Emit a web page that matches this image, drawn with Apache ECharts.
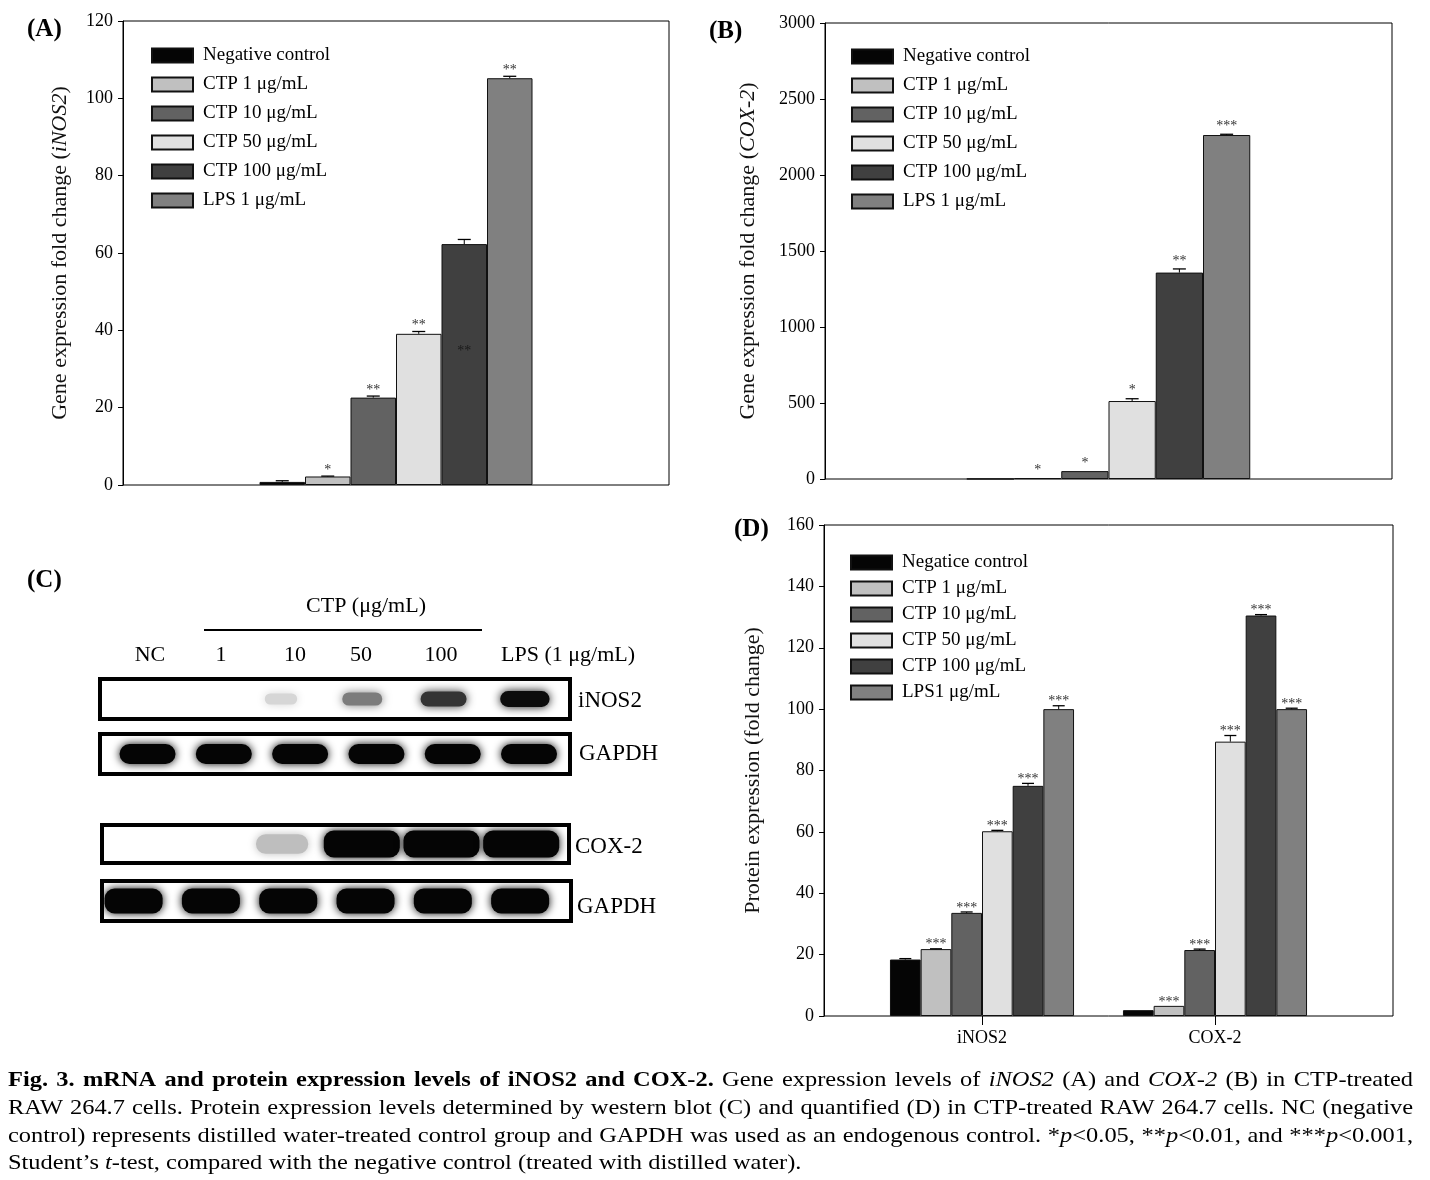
<!DOCTYPE html>
<html><head><meta charset="utf-8">
<script src="https://cdn.jsdelivr.net/npm/echarts@6/dist/echarts.min.js"></script>
<style>html,body{margin:0;padding:0;background:#fff}#c{width:1430px;height:1180px}</style>
</head><body><div id="c"></div>
<script>
// ---------------- data ----------------
const seriesNames = ['Negative control', 'CTP 1 μg/mL', 'CTP 10 μg/mL', 'CTP 50 μg/mL', 'CTP 100 μg/mL', 'LPS 1 μg/mL'];
const seriesNamesD = ['Negatice control', 'CTP 1 μg/mL', 'CTP 10 μg/mL', 'CTP 50 μg/mL', 'CTP 100 μg/mL', 'LPS1 μg/mL'];

const ticksA = [0, 20, 40, 60, 80, 100, 120];
const valuesA = [0.8, 2.2, 22.6, 39.1, 62.3, 105.2];
const errorsA = [0.3, 0.1, 0.4, 0.6, 1.2, 0.5];
const starsA = ['', '*', '**', '**', '**', '**'];
const starAnchorA = [null, null, null, null, 35, null]; // the CTP 100 mark is printed inside its bar

const ticksB = [0, 500, 1000, 1500, 2000, 2500, 3000];
const valuesB = [1, 6, 52, 513, 1358, 2263];
const errorsB = [0, 0, 0, 15, 24, 5];
const starsB = ['', '*', '*', '*', '**', '***'];

const categoriesD = ['iNOS2', 'COX-2'];
const ticksD = [0, 20, 40, 60, 80, 100, 120, 140, 160];
const valuesD = [[18.4, 1.9], [21.8, 3.3], [33.6, 21.5], [60.2, 89.4], [75.0, 130.5], [100.0, 100.0]];
const errorsD = [[0.3, 0], [0.1, 0], [0.3, 0.3], [0.3, 2.0], [0.8, 0.3], [1.1, 0.3]];
const starsD = [['', ''], ['***', '***'], ['***', '***'], ['***', '***'], ['***', '***'], ['***', '***']];

// western blot (C): lane labels and band intensity (0 = none, 1 = saturated)
const blotLanes = ['NC', '1', '10', '50', '100', 'LPS (1 μg/mL)'];
const blotRows = ['iNOS2', 'GAPDH', 'COX-2', 'GAPDH'];
const bandINOS2 = [0, 0, 0.12, 0.5, 0.8, 0.97];
const bandGAPDH1 = [1, 1, 1, 1, 1, 1];
const bandCOX2 = [0, 0, 0.22, 1, 1, 1];
const bandGAPDH2 = [1, 1, 1, 1, 1, 1];

const captionLines = [
  [['b', 'Fig. 3. mRNA and protein expression levels of iNOS2 and COX-2.'], ['n', ' Gene expression levels of '], ['i', 'iNOS2'], ['n', ' (A) and '], ['i', 'COX-2'], ['n', ' (B) in CTP-treated']],
  [['n', 'RAW 264.7 cells. Protein expression levels determined by western blot (C) and quantified (D) in CTP-treated RAW 264.7 cells. NC (negative']],
  [['n', 'control) represents distilled water-treated control group and GAPDH was used as an endogenous control. *'], ['i', 'p'], ['n', '<0.05, **'], ['i', 'p'], ['n', '<0.01, and ***'], ['i', 'p'], ['n', '<0.001,']],
  [['n', 'Student’s '], ['i', 't'], ['n', '-test, compared with the negative control (treated with distilled water).']]
];

// ---------------- styles ----------------
const FONT = '"Liberation Serif", "Times New Roman", serif';
const colors = ['#050505', '#c0c0c0', '#626262', '#e0e0e0', '#404040', '#808080'];

const chart = echarts.init(document.getElementById('c'), null, { renderer: 'canvas' });

function valueAxis(gridIndex, ticks, name, nameGap, show) {
  return {
    type: 'value', gridIndex: gridIndex, min: ticks[0], max: ticks[ticks.length - 1],
    interval: ticks[1] - ticks[0], show: show !== false,
    axisLine: { show: true, lineStyle: { color: '#000', width: 1 } },
    axisTick: { show: true, inside: false, length: 5, lineStyle: { color: '#000' } },
    axisLabel: { fontFamily: FONT, fontSize: 18, color: '#000', margin: 10, formatter: v => String(v) },
    splitLine: { show: false },
    name: name, nameLocation: 'middle', nameGap: nameGap, nameRotate: 90,
    nameTextStyle: { fontFamily: FONT, fontSize: 22, color: '#111', rich: { it: { fontFamily: FONT, fontSize: 22, fontStyle: 'italic', color: '#111' } } }
  };
}

function errRenderer(items, nSer, gap, capW, starSize, starColor, starLift) {
  return function (params, api) {
    const it = items[params.dataIndex];
    const catW = api.size([1, 0])[0];
    const bw = catW * (1 - gap) / nSer;
    const c = api.coord([it.cat, it.v]);
    const t = api.coord([it.cat, it.v + it.e]);
    const x = c[0] + (it.s - nSer / 2 + 0.5) * bw;
    const children = [];
    if (it.e > 0) {
      children.push({ type: 'line', shape: { x1: x, y1: c[1], x2: x, y2: t[1] }, style: { stroke: '#000', lineWidth: 1 } });
      children.push({ type: 'line', shape: { x1: x - capW / 2, y1: t[1], x2: x + capW / 2, y2: t[1] }, style: { stroke: '#000', lineWidth: 1.3 } });
    }
    if (it.star) {
      const sy = it.anchor != null ? api.coord([it.cat, it.anchor])[1] + 9 : t[1] + starLift;
      children.push({ type: 'text', x: x, y: sy, style: { text: it.star, align: 'center', verticalAlign: 'bottom', fontFamily: FONT, fontSize: starSize, fill: it.anchor != null ? '#1a1a1a' : starColor } });
    }
    return { type: 'group', children: children };
  };
}

function bandRenderer(w, h, blur) {
  return function (params, api) {
    const v = api.value(1);
    if (!(v > 0)) return null;
    const p = api.coord([api.value(0), 0.5]);
    const g = Math.round(242 - 237 * v);
    const col = 'rgb(' + g + ',' + g + ',' + g + ')';
    const bw = w * (0.6 + 0.4 * v), bh = h * (0.65 + 0.35 * v);
    return { type: 'rect', shape: { x: p[0] - bw / 2, y: p[1] - bh / 2, width: bw, height: bh, r: Math.min(bh / 2, 10) },
      style: { fill: col, shadowBlur: blur, shadowColor: col } };
  };
}

const barBase = { type: 'bar', barGap: '0%', emphasis: { disabled: true }, animation: false };

const series = [];
// A
seriesNames.forEach((n, i) => series.push(Object.assign({}, barBase, { name: n, xAxisIndex: 0, yAxisIndex: 0, barCategoryGap: '50%', data: [valuesA[i]], itemStyle: { color: colors[i], borderColor: '#111', borderWidth: 1 } })));
const itemsA = valuesA.map((v, i) => ({ cat: 0, s: i, v: v, e: errorsA[i], star: starsA[i], anchor: starAnchorA[i] }));
series.push({ type: 'custom', xAxisIndex: 0, yAxisIndex: 0, clip: false, z: 5, animation: false, data: itemsA.map(o => [o.cat, o.v + o.e]), renderItem: errRenderer(itemsA, 6, 0.5, 13, 14, '#333', 1) });
// B
seriesNames.forEach((n, i) => series.push(Object.assign({}, barBase, { name: n, xAxisIndex: 1, yAxisIndex: 1, barCategoryGap: '50%', data: [valuesB[i]], itemStyle: { color: colors[i], borderColor: '#111', borderWidth: 1 } })));
const itemsB = valuesB.map((v, i) => ({ cat: 0, s: i, v: v, e: errorsB[i], star: starsB[i], anchor: null }));
series.push({ type: 'custom', xAxisIndex: 1, yAxisIndex: 1, clip: false, z: 5, animation: false, data: itemsB.map(o => [o.cat, o.v + o.e]), renderItem: errRenderer(itemsB, 6, 0.5, 13, 14, '#333', -1) });
// D
seriesNamesD.forEach((n, i) => series.push(Object.assign({}, barBase, { name: n, xAxisIndex: 3, yAxisIndex: 3, barCategoryGap: '21%', data: valuesD[i], itemStyle: { color: colors[i], borderColor: '#111', borderWidth: 1 } })));
const itemsD = [];
valuesD.forEach((row, i) => row.forEach((v, c) => itemsD.push({ cat: c, s: i, v: v, e: errorsD[i][c], star: starsD[i][c], anchor: null })));
series.push({ type: 'custom', xAxisIndex: 3, yAxisIndex: 3, clip: false, z: 5, animation: false, data: itemsD.map(o => [o.cat, o.v + o.e]), renderItem: errRenderer(itemsD, 6, 0.21, 12, 14, '#333', 3) });
// C blot bands
[[bandINOS2, 50, 16, 10], [bandGAPDH1, 56, 20, 8], [bandCOX2, 76, 27, 9], [bandGAPDH2, 58, 25, 8]].forEach((b, k) => {
  series.push({ type: 'custom', xAxisIndex: 4 + k, yAxisIndex: 4 + k, clip: true, animation: false, data: b[0].map((v, i) => [i, v]), renderItem: bandRenderer(b[1], b[2], b[3]) });
});

// ---------------- grids ----------------
const grids = [
  { left: 123, top: 21, width: 546, height: 464, show: true, borderColor: '#000', borderWidth: 1 },   // A
  { left: 825, top: 23, width: 567, height: 456, show: true, borderColor: '#000', borderWidth: 1 },   // B
  { left: 824, top: 525, width: 569, height: 491, show: true, borderColor: '#000', borderWidth: 1 },  // D frame
  { left: 865.5, top: 525, width: 466, height: 491, show: false },                                   // D bars
  { left: 100, top: 679, width: 470, height: 40, show: true, borderColor: '#000', borderWidth: 4 },   // C rows
  { left: 100, top: 734, width: 470, height: 40, show: true, borderColor: '#000', borderWidth: 4 },
  { left: 102, top: 825, width: 467, height: 38, show: true, borderColor: '#000', borderWidth: 4 },
  { left: 102, top: 881, width: 469, height: 40, show: true, borderColor: '#000', borderWidth: 4 }
];
const blotRanges = [[-0.226, 5.555], [-0.623, 5.537], [-0.26, 5.6], [-0.409, 5.658]];

const xAxes = [
  { type: 'category', gridIndex: 0, data: [''], show: false },
  { type: 'category', gridIndex: 1, data: [''], show: false },
  { type: 'value', gridIndex: 2, min: 0, max: 1, show: false },
  { type: 'category', gridIndex: 3, data: categoriesD, axisLine: { show: false },
    axisTick: { show: true, alignWithLabel: true, length: 9, lineStyle: { color: '#000' } },
    axisLabel: { fontFamily: FONT, fontSize: 18, color: '#000', margin: 13 } }
].concat(blotRanges.map((r, k) => ({ type: 'value', gridIndex: 4 + k, min: r[0], max: r[1], show: false })));

const yAxes = [
  valueAxis(0, ticksA, 'Gene expression fold change ({it|iNOS2})', 52),
  valueAxis(1, ticksB, 'Gene expression fold change ({it|COX-2})', 66),
  valueAxis(2, ticksD, 'Protein expression (fold change)', 60),
  valueAxis(3, ticksD, '', 0, false)
].concat([0, 1, 2, 3].map(k => ({ type: 'value', gridIndex: 4 + k, min: 0, max: 1, show: false })));

function legendAt(names, left, top, gap) {
  return { data: names, left: left, top: top, padding: 0, orient: 'vertical', icon: 'rect', itemWidth: 41, itemHeight: 14, itemGap: gap, selectedMode: false,
    textStyle: { fontFamily: FONT, fontSize: 19, color: '#000', padding: [0, 0, 0, 5] } };
}

// ---------------- text graphics ----------------
const g = [];
function txt(t, x, y, size, opts) {
  g.push({ type: 'text', x: x, y: y, silent: true, style: Object.assign({ text: t, fontFamily: FONT, fontSize: size, fill: '#000', align: 'left', verticalAlign: 'middle' }, opts || {}) });
}
txt('(A)', 27, 30, 25, { fontWeight: 'bold' });
txt('(B)', 709, 32, 25, { fontWeight: 'bold' });
txt('(C)', 27, 581, 25, { fontWeight: 'bold' });
txt('(D)', 734, 530, 25, { fontWeight: 'bold' });
// panel C labels
txt('CTP (μg/mL)', 366, 606, 22, { align: 'center' });
g.push({ type: 'line', silent: true, shape: { x1: 204, y1: 630, x2: 482, y2: 630 }, style: { stroke: '#000', lineWidth: 2 } });
const laneLabelX = [150, 221, 295, 361, 441, 568];
blotLanes.forEach((l, i) => txt(l, laneLabelX[i], 655, 22, { align: 'center' }));
const rowLabelPos = [[578, 701], [579, 754], [575, 847], [577, 907]];
blotRows.forEach((r, i) => txt(r, rowLabelPos[i][0], rowLabelPos[i][1], 23));

// caption, justified
(function () {
  const SIZE = 22, SX = 1.11, LEFT = 8, RIGHT = 1413, ys = [1080, 1108, 1136, 1163];
  const ctx = document.createElement('canvas').getContext('2d');
  const fontOf = s => (s === 'b' ? 'bold ' : s === 'i' ? 'italic ' : '') + SIZE + 'px ' + FONT;
  captionLines.forEach((line, li) => {
    const words = []; let cur = [];
    line.forEach(([st, text]) => {
      let buf = '';
      for (const ch of text) {
        if (ch === ' ') {
          if (buf) cur.push([st, buf]); buf = '';
          if (cur.length) words.push(cur); cur = [];
        } else buf += ch;
      }
      if (buf) cur.push([st, buf]);
    });
    if (cur.length) words.push(cur);
    const widths = words.map(w => w.map(([st, t]) => { ctx.font = fontOf(st); return ctx.measureText(t).width * SX; }));
    const total = widths.reduce((a, w) => a + w.reduce((p, q) => p + q, 0), 0);
    ctx.font = fontOf('n');
    const last = li === captionLines.length - 1;
    const gap = last ? ctx.measureText(' ').width * SX : (RIGHT - LEFT - total) / (words.length - 1);
    let x = LEFT;
    words.forEach((w, wi) => {
      w.forEach(([st, t], si) => {
        g.push({ type: 'text', x: x, y: ys[li], scaleX: SX, silent: true,
          style: { text: t, fontFamily: FONT, fontSize: SIZE, fontWeight: st === 'b' ? 'bold' : 'normal', fontStyle: st === 'i' ? 'italic' : 'normal', fill: '#000', align: 'left', verticalAlign: 'middle' } });
        x += widths[wi][si];
      });
      x += gap;
    });
  });
})();

chart.setOption({
  backgroundColor: '#fff',
  animation: false,
  grid: grids,
  xAxis: xAxes,
  yAxis: yAxes,
  legend: [legendAt(seriesNames, 151, 46, 10), legendAt(seriesNames, 851, 47, 10), legendAt(seriesNamesD, 850, 553, 7)],
  series: series,
  graphic: { elements: g }
});
</script></body></html>
